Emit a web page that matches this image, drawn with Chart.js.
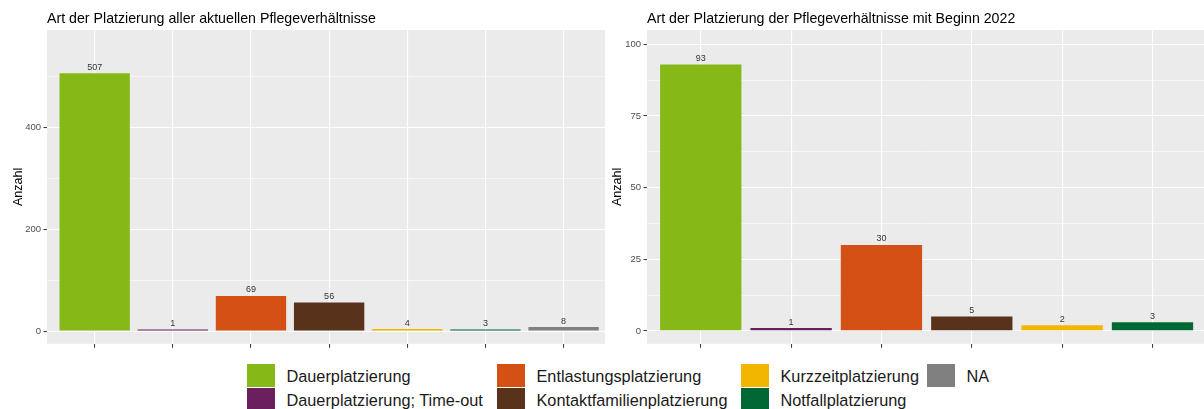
<!DOCTYPE html>
<html>
<head>
<meta charset="utf-8">
<script src="https://cdn.jsdelivr.net/npm/chart.js@4"></script>
<style>
  body { margin: 0; background: #fff; width: 1204px; height: 409px; overflow: hidden; position: relative; font-family: "Liberation Sans", Arial, sans-serif; }
  .box { position: absolute; top: 0; height: 352px; }
  #legend { position: absolute; left: 0; top: 0; }
  .sw { position: absolute; width: 28px; height: 23px; }
  .lt { position: absolute; font-size: 16.3px; color: #1a1a1a; white-space: nowrap; line-height: 23px; }
</style>
</head>
<body>
<div class="box" style="left:0;width:605px"><canvas id="chartAlle"></canvas></div>
<div class="box" style="left:605px;width:599px"><canvas id="chart2022"></canvas></div>
<div id="legend"></div>
<script>
const kategorien = ['Dauerplatzierung', 'Dauerplatzierung; Time-out', 'Entlastungsplatzierung',
  'Kontaktfamilienplatzierung', 'Kurzzeitplatzierung', 'Notfallplatzierung', 'NA'];
const farben = ['#86B817', '#6B1F5E', '#D55014', '#58321A', '#F2B600', '#006834', '#808080'];

const werteAlle = [507, 1, 69, 56, 4, 3, 8];
const werte2022 = [93, 1, 30, 5, 2, 3];

const yTicksAlle = [0, 100, 200, 300, 400, 500];
const yLabelsAlle = [0, 200, 400];
const yTicks2022 = [0, 12.5, 25, 37.5, 50, 62.5, 75, 87.5, 100];
const yLabels2022 = [0, 25, 50, 75, 100];

const titelAlle = 'Art der Platzierung aller aktuellen Pflegeverhältnisse';
const titel2022 = 'Art der Platzierung der Pflegeverhältnisse mit Beginn 2022';
const yTitel = 'Anzahl';

const panelBg = {
  id: 'panelBg',
  beforeDraw(chart) {
    const { ctx, chartArea: a } = chart;
    ctx.save();
    ctx.fillStyle = '#EBEBEB';
    ctx.fillRect(a.left, a.top, a.right - a.left, a.bottom - a.top);
    ctx.restore();
  }
};

const labelsAndTitle = {
  id: 'labelsAndTitle',
  afterDatasetsDraw(chart, args, opts) {
    const { ctx, chartArea: a } = chart;
    ctx.save();
    ctx.fillStyle = '#333';
    ctx.font = '9px "Liberation Sans", Arial, sans-serif';
    ctx.textAlign = 'center';
    ctx.textBaseline = 'alphabetic';
    chart.getDatasetMeta(0).data.forEach((bar, i) => {
      const v = chart.data.datasets[0].data[i].y;
      ctx.fillText(String(v), bar.x, bar.y - 3.5);
    });
    ctx.fillStyle = '#000';
    ctx.font = '14.2px "Liberation Sans", Arial, sans-serif';
    ctx.textAlign = 'left';
    ctx.fillText(opts.text, a.left, 23);
    ctx.restore();
  }
};

function makeChart(id, werte, yTicks, yLabels, yMin, yMax, xMin, xMax, yWidth, yTitlePad, titel) {
  const ctx = document.getElementById(id).getContext('2d');
  return new Chart(ctx, {
    type: 'bar',
    data: {
      datasets: [{
        data: werte.map((v, i) => ({ x: i, y: v })),
        backgroundColor: farben.slice(0, werte.length),
        borderWidth: 0,
        minBarLength: 1.6,
        categoryPercentage: 1,
        barPercentage: 0.9
      }]
    },
    options: {
      responsive: true,
      maintainAspectRatio: false,
      animation: false,
      layout: { padding: { top: 30, left: 0, right: 0, bottom: 0 } },
      plugins: {
        legend: { display: false },
        tooltip: { enabled: false },
        labelsAndTitle: { text: titel }
      },
      scales: {
        x: {
          type: 'linear',
          offset: false,
          min: xMin,
          max: xMax,
          afterBuildTicks: s => { s.ticks = werte.map((_, i) => ({ value: i })); },
          afterFit: s => { s.height = 8; },
          border: { display: false },
          grid: { offset: false, color: '#fff', lineWidth: 1.1, tickColor: '#333', tickLength: 4, tickWidth: 1 },
          ticks: { autoSkip: false, callback: () => '' }
        },
        y: {
          min: yMin,
          max: yMax,
          afterBuildTicks: s => { s.ticks = yTicks.map(v => ({ value: v })); },
          afterFit: s => { s.width = yWidth; },
          border: { display: false },
          grid: {
            color: '#fff',
            lineWidth: c => yLabels.includes(c.tick.value) ? 1.1 : 0.55,
            tickColor: c => yLabels.includes(c.tick.value) ? '#333' : 'rgba(0,0,0,0)',
            tickLength: 3.5,
            tickWidth: 1
          },
          ticks: {
            autoSkip: false,
            padding: 2.5,
            color: '#4D4D4D',
            font: { family: '"Liberation Sans", Arial, sans-serif', size: 9.5 },
            callback: v => yLabels.includes(v) ? String(v) : ''
          },
          title: {
            display: true,
            text: yTitel,
            color: '#000',
            font: { family: '"Liberation Sans", Arial, sans-serif', size: 12.5 },
            padding: { top: yTitlePad, bottom: 0 }
          }
        }
      }
    },
    plugins: [panelBg, labelsAndTitle]
  });
}

makeChart('chartAlle', werteAlle, yTicksAlle, yLabelsAlle, -25, 592, -0.61, 6.53, 47, 11, titelAlle);
makeChart('chart2022', werte2022, yTicks2022, yLabels2022, -4.5, 105, -0.595, 5.57, 42, 5.3, titel2022);

// shared legend, filled column by column like ggplot
const legendCols = [247, 497, 741, 927];
const legendRows = [364, 388];
const legend = document.getElementById('legend');
kategorien.forEach((name, i) => {
  const col = Math.floor(i / 2), row = i % 2;
  const sw = document.createElement('div');
  sw.className = 'sw';
  sw.style.left = legendCols[col] + 'px';
  sw.style.top = legendRows[row] + 'px';
  sw.style.background = farben[i];
  const t = document.createElement('div');
  t.className = 'lt';
  t.style.left = (legendCols[col] + 39.5) + 'px';
  t.style.top = (legendRows[row] + 1) + 'px';
  t.textContent = name;
  legend.appendChild(sw);
  legend.appendChild(t);
});
</script>
</body>
</html>
